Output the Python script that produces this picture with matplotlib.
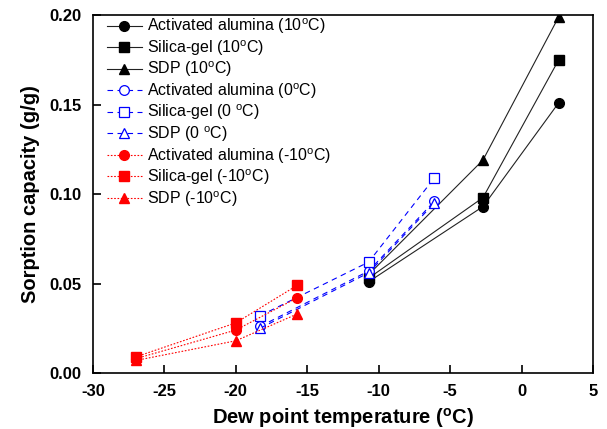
import matplotlib
matplotlib.use('Agg')
import matplotlib.pyplot as plt

plt.rcParams['font.family'] = ['Liberation Sans', 'DejaVu Sans']
plt.rcParams['mathtext.fontset'] = 'custom'
plt.rcParams['mathtext.rm'] = 'Liberation Sans'
plt.rcParams['mathtext.bf'] = 'Liberation Sans:bold'
plt.rcParams['axes.unicode_minus'] = False

# Dew point temperatures (C) for each adsorption temperature
dew_10 = [-10.7, -2.7, 2.6]
dew_0 = [-18.3, -10.7, -6.1]
dew_m10 = [-27.0, -20.0, -15.7]

# Sorption capacity (g/g)
aa_10 = [0.051, 0.093, 0.151]
sg_10 = [0.053, 0.098, 0.175]
sdp_10 = [0.055, 0.119, 0.199]

aa_0 = [0.026, 0.057, 0.096]
sg_0 = [0.032, 0.062, 0.109]
sdp_0 = [0.025, 0.056, 0.095]

aa_m10 = [0.008, 0.024, 0.042]
sg_m10 = [0.009, 0.028, 0.049]
sdp_m10 = [0.007, 0.018, 0.033]

deg = r'$^{\mathrm{o}}$'

fig = plt.figure(figsize=(6.07, 4.29), dpi=100)
ax = fig.add_axes([0.153, 0.1305, 0.824, 0.8345])

ms = 7
black = dict(color='#222222', linestyle='-', linewidth=0.8, markersize=ms,
             markerfacecolor='black', markeredgecolor='black')
ax.plot(dew_10, aa_10, marker='o', label=f'Activated alumina (10{deg}C)', **black)
ax.plot(dew_10, sg_10, marker='s', label=f'Silica-gel (10{deg}C)', **black)
ax.plot(dew_10, sdp_10, marker='^', label=f'SDP (10{deg}C)', **black)

blue = dict(color='blue', linestyle=(0, (5, 4)), linewidth=0.8, markersize=ms,
            markerfacecolor='white', markeredgecolor='blue', markeredgewidth=0.9)
ax.plot(dew_0, aa_0, marker='o', label=f'Activated alumina (0{deg}C)', **blue)
ax.plot(dew_0, sg_0, marker='s', label=f'Silica-gel (0 {deg}C)', **blue)
ax.plot(dew_0, sdp_0, marker='^', label=f'SDP (0 {deg}C)', **blue)

red = dict(color='red', linestyle=(0, (1.5, 1.5)), linewidth=0.8, markersize=ms)
ax.plot(dew_m10, aa_m10, marker='o', label=f'Activated alumina (-10{deg}C)', **red)
ax.plot(dew_m10, sg_m10, marker='s', label=f'Silica-gel (-10{deg}C)', **red)
ax.plot(dew_m10, sdp_m10, marker='^', label=f'SDP (-10{deg}C)', **red)

ax.set_xlim(-30, 5)
ax.set_ylim(0, 0.20)
ax.set_xticks(range(-30, 6, 5))
ax.set_yticks([0.0, 0.05, 0.10, 0.15, 0.20])
ax.set_yticklabels(['0.00', '0.05', '0.10', '0.15', '0.20'])
ax.tick_params(direction='in', length=6, width=1.2, labelsize=12, pad=8,
               top=False, right=False)
for lab in ax.get_xticklabels() + ax.get_yticklabels():
    lab.set_fontweight('bold')
for sp in ax.spines.values():
    sp.set_linewidth(1.2)

ax.set_xlabel(r'Dew point temperature ($^{\mathbf{o}}$C)', fontsize=14.5,
              fontweight='bold', labelpad=5)
ax.set_ylabel('Sorption capacity (g/g)', fontsize=14.5, fontweight='bold',
              labelpad=7)

ax.legend(loc='upper left', bbox_to_anchor=(0.028, 0.995), frameon=False,
          fontsize=11.5, handlelength=2.2, labelspacing=0.12,
          borderaxespad=0.0, borderpad=0.0, handletextpad=0.3)

fig.savefig('out.png', dpi=100)
